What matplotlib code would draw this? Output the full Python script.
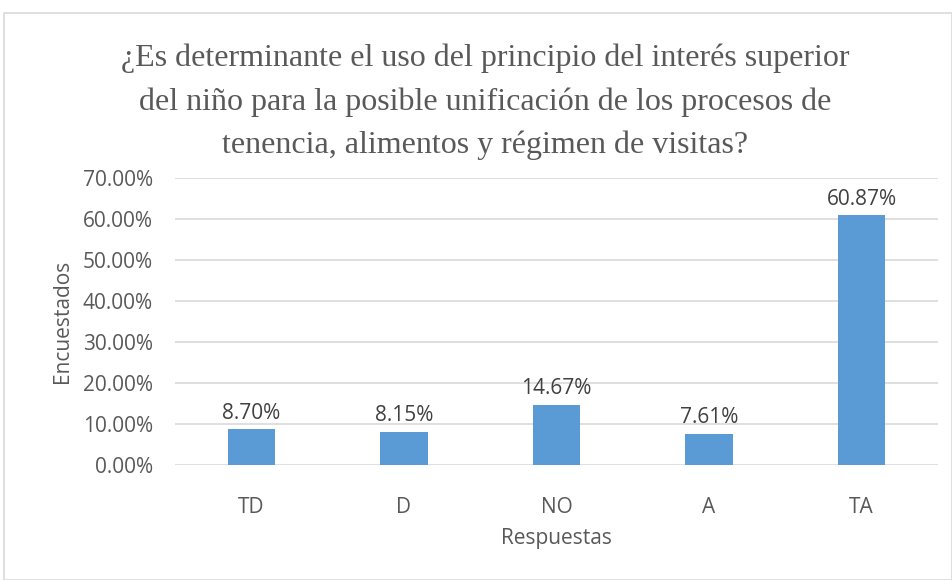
import matplotlib
matplotlib.use("Agg")
import matplotlib.pyplot as plt
from matplotlib.patches import Rectangle

categories = ["TD", "D", "NO", "A", "TA"]
values = [8.70, 8.15, 14.67, 7.61, 60.87]
labels = ["8.70%", "8.15%", "14.67%", "7.61%", "60.87%"]
yticks = [0, 10, 20, 30, 40, 50, 60, 70]

W, H = 953, 580
fig = plt.figure(figsize=(W/100, H/100), dpi=100)
fig.patch.set_facecolor("white")

# outer frame
fig.patches.append(Rectangle((4/W, 0), 1 - 4/W - 0.5/W, 1 - 13/H, transform=fig.transFigure,
                             fill=False, edgecolor="#D9D9D9", linewidth=1.2))

ax = fig.add_axes([175/W, 1 - 465/H, (938-175)/W, (465-178)/H])
x = range(len(categories))
ax.bar(x, values, width=0.31, color="#5B9BD5", zorder=3)
ax.set_xlim(-0.5, 4.5)
ax.set_ylim(0, 70)
ax.set_yticks(yticks)
ax.set_yticklabels([f"{t:.2f}%" for t in yticks])
ax.set_xticks(list(x))
ax.set_xticklabels(categories)
ax.yaxis.grid(True, color="#D9D9D9", linewidth=1.2, zorder=0)
for s in ax.spines.values():
    s.set_visible(False)
ax.tick_params(axis="both", length=0, colors="#595959", labelsize=15)
ax.tick_params(axis="y", pad=16)
ax.tick_params(axis="x", pad=23)
for lab in ax.get_xticklabels() + ax.get_yticklabels():
    lab.set_fontfamily("Open Sans")
    lab.set_color("#595959")

for xi, v, l in zip(x, values, labels):
    ax.annotate(l, (xi, v), xytext=(0, 4), textcoords="offset points",
                ha="center", va="bottom", fontsize=15, color="#404040",
                fontfamily="Open Sans")

ax.set_xlabel("Respuestas", fontsize=15, color="#595959", fontfamily="Open Sans", labelpad=7)
ax.set_ylabel("Encuestados", fontsize=15, color="#595959", fontfamily="Open Sans", labelpad=7)

fig.text(485/W, 1 - 102/H,
         "¿Es determinante el uso del principio del interés superior\n"
         "del niño para la posible unificación de los procesos de\n"
         "tenencia, alimentos y régimen de visitas?",
         ha="center", va="center", fontsize=23, color="#595959",
         fontfamily="Liberation Serif", linespacing=1.62)

fig.savefig("out.png", dpi=100)
